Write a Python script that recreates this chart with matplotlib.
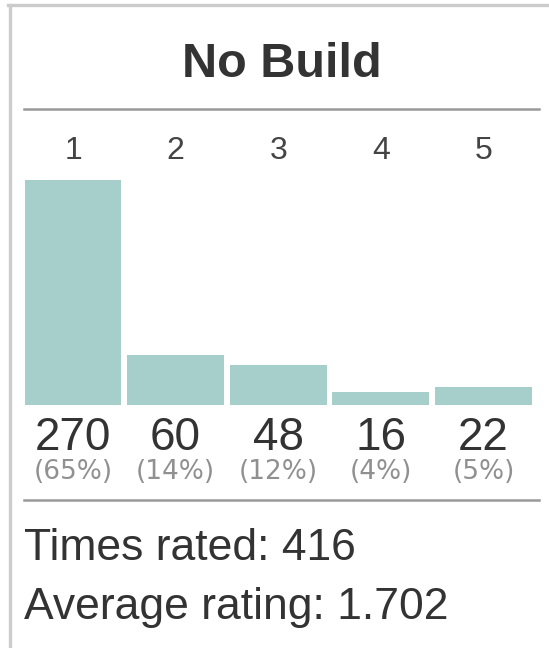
import matplotlib
matplotlib.use("Agg")
import matplotlib.pyplot as plt
import matplotlib.transforms as mtransforms
from matplotlib.lines import Line2D

W, H = 549, 648

title = "No Build"
ratings = [1, 2, 3, 4, 5]
counts = [270, 60, 48, 16, 22]
pct_labels = ["(65%)", "(14%)", "(12%)", "(4%)", "(5%)"]
times_rated = 416
avg_rating = "1.702"

bar_col = "#a6ceca"
txt_col = "#333333"


def fx(px):
    return px / W


def fy(py):
    return 1 - py / H


fig = plt.figure(figsize=(W / 100, H / 100), dpi=100)
fig.patch.set_facecolor("white")

# outer border (top + left only)
fig.add_artist(Line2D([fx(8), 1], [fy(5), fy(5)], color="#cccccc", lw=2.4))
fig.add_artist(Line2D([fx(9.5), fx(9.5)], [fy(5), 0], color="#cccccc", lw=2.4))

fig.text(fx(282), fy(77), title, ha="center", va="baseline",
         fontsize=35, fontweight="bold", color=txt_col, family="Liberation Sans")

fig.add_artist(Line2D([fx(24), fx(539)], [fy(109), fy(109)], color="#999999", lw=1.8))
fig.add_artist(Line2D([fx(24), fx(539)], [fy(499.5), fy(499.5)], color="#999999", lw=1.8))

# bars
ax = fig.add_axes([fx(24), fy(405), fx(532) - fx(24), fy(180) - fy(405)])
ax.bar(ratings, counts, width=0.945, color=bar_col)
ax.set_xlim(0.5224, 5.473)
ax.set_ylim(0, 270)
ax.axis("off")

tr = mtransforms.blended_transform_factory(ax.transData, fig.transFigure)
for r, c, p in zip(ratings, counts, pct_labels):
    ax.text(r, fy(159), str(r), transform=tr, ha="center", va="baseline",
            fontsize=23, color="#444444", family="Liberation Sans")
    ax.text(r, fy(450), str(c), transform=tr, ha="center", va="baseline",
            fontsize=33, color=txt_col, family="Liberation Sans")
    ax.text(r, fy(479), p, transform=tr, ha="center", va="baseline",
            fontsize=19, color="#909090", family="DejaVu Sans")

fig.text(fx(24), fy(560), "Times rated: %d" % times_rated, ha="left", va="baseline",
         fontsize=32, color=txt_col, family="Liberation Sans")
fig.text(fx(24), fy(619), "Average rating: " + avg_rating, ha="left", va="baseline",
         fontsize=32, color=txt_col, family="Liberation Sans")

fig.savefig("out.png", dpi=100)
